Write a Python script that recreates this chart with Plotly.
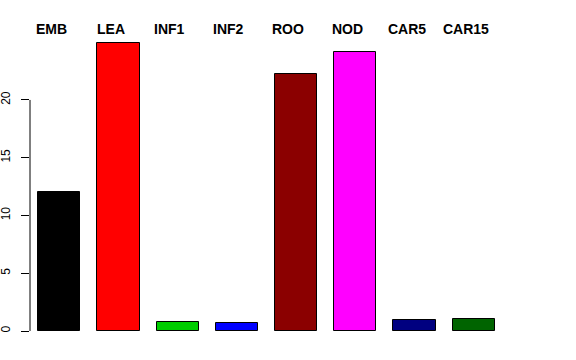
import plotly.graph_objects as go

categories = ["EMB", "LEA", "INF1", "INF2", "ROO", "NOD", "CAR5", "CAR15"]
values = [12.0, 24.9, 0.78, 0.72, 22.25, 24.13, 0.98, 1.01]
colors = ["#000000", "#FF0000", "#00CD00", "#0000FF", "#8B0000", "#FF00FF", "#000080", "#006400"]
y_ticks = [0, 5, 10, 15, 20]

xpos = list(range(len(categories)))

fig = go.Figure()
fig.add_trace(go.Bar(
    x=xpos, y=values, width=0.71,
    marker=dict(color=colors, line=dict(color="black", width=1)),
    hoverinfo="skip",
))

for i, c in enumerate(categories):
    fig.add_annotation(
        x=i, y=1, xref="x", yref="paper", text="<b>%s</b>" % c,
        showarrow=False, xanchor="center", yanchor="middle",
        xshift=-8, yshift=2,
        font=dict(family="Liberation Sans, Arial", size=14, color="black"),
    )

fig.add_shape(type="line", xref="paper", yref="y", x0=0, x1=0,
              y0=y_ticks[0], y1=y_ticks[-1], line=dict(color="black", width=1))

fig.update_layout(
    width=576, height=360,
    margin=dict(l=30, r=73, t=31, b=29, autoexpand=False),
    plot_bgcolor="white", paper_bgcolor="white",
    showlegend=False,
    bargap=0,
    xaxis=dict(range=[-0.495, 7.495], visible=False, fixedrange=True, automargin=False),
    yaxis=dict(
        range=[0, 25.97], tickvals=y_ticks, ticktext=[str(t) for t in y_ticks],
        ticks="outside", ticklen=8, tickcolor="black", tickwidth=1,
        showline=False, showgrid=False, zeroline=False, tickangle=-90,
        ticklabelstandoff=6, automargin=False,
        tickfont=dict(family="Liberation Sans, Arial", size=12, color="black"),
        fixedrange=True,
    ),
)

fig.write_html("out.html", config={"displayModeBar": False},
               post_script="document.body.style.margin='0';")
